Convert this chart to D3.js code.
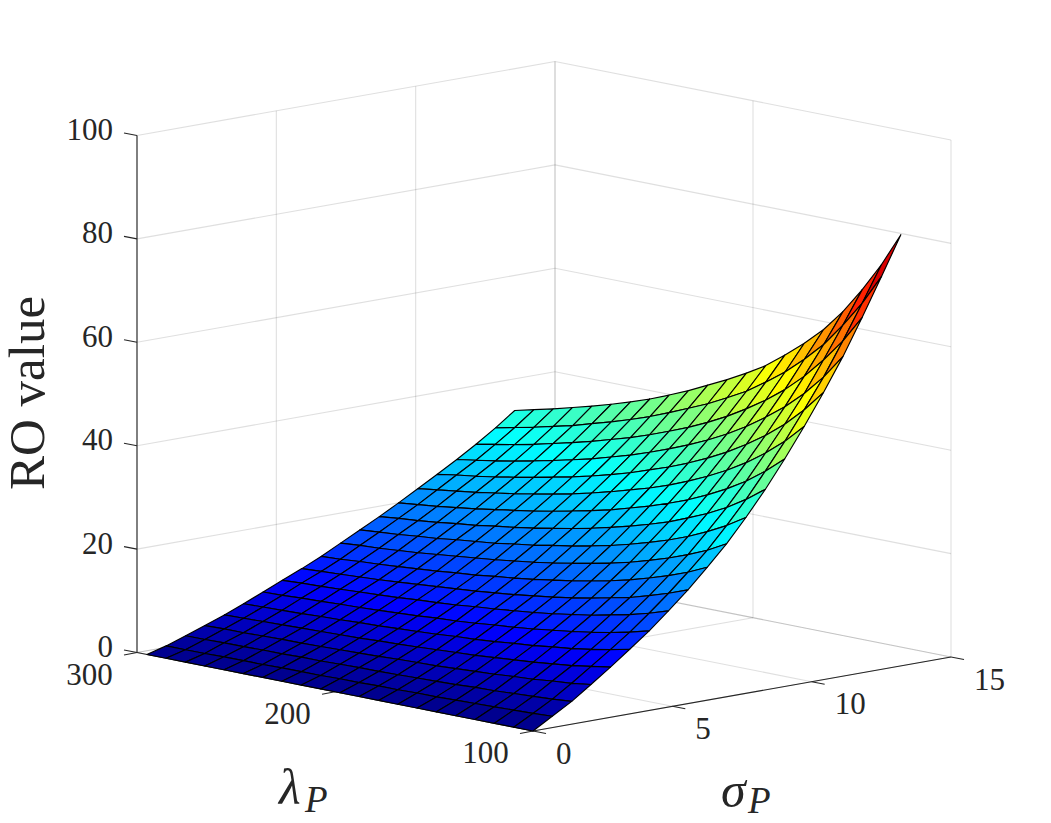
<!DOCTYPE html>
<html><head><meta charset="UTF-8">
<style>
  html, body { margin: 0; padding: 0; background: #fff; }
  text { font-family: "Liberation Serif", serif; fill: #262626; }
</style>
</head>
<body>
<svg width="1051" height="823"></svg>
<script src="https://cdn.jsdelivr.net/npm/d3@7"></script>
<script>

const lambdaValues = [100, 109.75, 119.5, 129.25, 139, 148.75, 158.5, 168.25, 178, 187.75, 197.5, 207.25, 217, 226.75, 236.5, 246.25, 256, 265.75, 275.5, 285.25, 295];
const sigmaValues = [0, 0.69, 1.39, 2.08, 2.78, 3.47, 4.17, 4.86, 5.56, 6.25, 6.95, 7.64, 8.34, 9.03, 9.73, 10.42, 11.12, 11.81, 12.51, 13.2];

// one row per sigma value, one column per lambda value
const roValues = [
  [0, 0, 0, 0, 0, 0, 0, 0, 0, 0, 0, 0, 0, 0, 0, 0, 0, 0, 0, 0, 0],
  [2.2, 2.0, 1.9, 1.8, 1.7, 1.6, 1.5, 1.5, 1.4, 1.4, 1.3, 1.3, 1.2, 1.2, 1.2, 1.1, 1.1, 1.1, 1.0, 1.0, 1.0],
  [4.4, 4.1, 3.9, 3.7, 3.5, 3.4, 3.2, 3.1, 3.0, 2.9, 2.8, 2.8, 2.7, 2.6, 2.6, 2.5, 2.5, 2.4, 2.4, 2.3, 2.3],
  [7.0, 6.5, 6.2, 5.8, 5.6, 5.3, 5.1, 4.9, 4.7, 4.6, 4.5, 4.3, 4.2, 4.1, 4.0, 3.9, 3.9, 3.8, 3.7, 3.7, 3.6],
  [9.7, 9.1, 8.5, 8.1, 7.7, 7.4, 7.1, 6.8, 6.6, 6.4, 6.2, 6.0, 5.9, 5.7, 5.6, 5.5, 5.4, 5.3, 5.2, 5.1, 5.0],
  [12.5, 11.7, 11.0, 10.4, 10.0, 9.5, 9.2, 8.8, 8.5, 8.3, 8.0, 7.8, 7.6, 7.4, 7.3, 7.1, 7.0, 6.8, 6.7, 6.6, 6.5],
  [15.4, 14.4, 13.6, 12.9, 12.3, 11.8, 11.3, 10.9, 10.6, 10.2, 9.9, 9.7, 9.4, 9.2, 9.0, 8.8, 8.7, 8.5, 8.4, 8.2, 8.1],
  [18.6, 17.4, 16.4, 15.6, 14.8, 14.2, 13.6, 13.1, 12.7, 12.3, 12.0, 11.6, 11.3, 11.1, 10.8, 10.6, 10.4, 10.2, 10.0, 9.9, 9.7],
  [22.0, 20.6, 19.4, 18.3, 17.5, 16.7, 16.0, 15.4, 14.9, 14.4, 14.0, 13.6, 13.3, 13.0, 12.7, 12.4, 12.1, 11.9, 11.7, 11.5, 11.3],
  [25.7, 24.0, 22.6, 21.4, 20.3, 19.4, 18.6, 17.9, 17.3, 16.7, 16.2, 15.8, 15.3, 15.0, 14.6, 14.3, 14.0, 13.7, 13.5, 13.2, 13.0],
  [29.6, 27.6, 26.0, 24.6, 23.4, 22.3, 21.4, 20.6, 19.9, 19.2, 18.6, 18.1, 17.6, 17.2, 16.8, 16.4, 16.0, 15.7, 15.4, 15.2, 14.9],
  [34.0, 31.7, 29.8, 28.1, 26.7, 25.5, 24.4, 23.4, 22.6, 21.8, 21.2, 20.5, 20.0, 19.4, 19.0, 18.6, 18.1, 17.8, 17.4, 17.1, 16.8],
  [38.8, 36.1, 33.8, 31.9, 30.3, 28.8, 27.6, 26.5, 25.5, 24.6, 23.8, 23.1, 22.4, 21.8, 21.3, 20.7, 20.3, 19.8, 19.4, 19.1, 18.7],
  [44.0, 40.9, 38.2, 36.0, 34.1, 32.4, 31.0, 29.7, 28.6, 27.5, 26.6, 25.8, 25.0, 24.3, 23.7, 23.1, 22.5, 22.0, 21.5, 21.1, 20.7],
  [49.6, 46.0, 43.0, 40.4, 38.2, 36.3, 34.6, 33.1, 31.8, 30.7, 29.6, 28.6, 27.7, 26.9, 26.2, 25.5, 24.9, 24.3, 23.8, 23.3, 22.8],
  [55.5, 51.4, 47.9, 45.0, 42.5, 40.3, 38.4, 36.7, 35.2, 33.9, 32.6, 31.5, 30.5, 29.6, 28.8, 28.0, 27.3, 26.6, 26.0, 25.5, 24.9],
  [61.8, 57.1, 53.2, 49.9, 47.1, 44.6, 42.4, 40.5, 38.8, 37.3, 35.9, 34.6, 33.5, 32.4, 31.5, 30.6, 29.8, 29.0, 28.3, 27.7, 27.1],
  [68.7, 63.4, 59.0, 55.1, 51.8, 49.0, 46.6, 44.4, 42.5, 40.8, 39.3, 37.9, 36.6, 35.5, 34.4, 33.4, 32.5, 31.6, 30.8, 30.1, 29.4],
  [76.0, 70.1, 65.1, 60.6, 57.0, 53.8, 51.1, 48.6, 46.6, 44.7, 43.1, 41.5, 40.0, 38.7, 37.5, 36.4, 35.3, 34.4, 33.5, 32.7, 31.9],
  [83.4, 76.9, 71.3, 66.3, 62.1, 58.7, 55.7, 52.9, 50.7, 48.7, 46.9, 45.1, 43.5, 42.0, 40.7, 39.5, 38.4, 37.4, 36.4, 35.5, 34.6]
];

const lambdaTicks = [100, 200, 300];
const sigmaTicks = [0, 5, 10, 15];
const roTicks = [0, 20, 40, 60, 80, 100];

let svg = d3.select("svg");

// oblique projection, everything is measured from the lambda=100, sigma=0, RO=0 corner
const originX = 533, originY = 731;
const lambdaDx = d3.scaleLinear().domain([100, 300]).range([0, -396]);
const lambdaDy = d3.scaleLinear().domain([100, 300]).range([0, -78.5]);
const sigmaDx = d3.scaleLinear().domain([0, 15]).range([0, 418]);
const sigmaDy = d3.scaleLinear().domain([0, 15]).range([0, -74]);
const roDy = d3.scaleLinear().domain([0, 100]).range([0, -517]);

function project(lambda, sigma, ro) {
  return [
    originX + lambdaDx(lambda) + sigmaDx(sigma),
    originY + lambdaDy(lambda) + sigmaDy(sigma) + roDy(ro)
  ];
}

// jet colormap
const roMax = d3.max(roValues, r => d3.max(r));
const jet = d3.scaleLinear()
  .domain([0, 0.111, 0.365, 0.619, 0.873, 1].map(t => t * roMax))
  .range(["#00008f", "#0000ff", "#00ffff", "#ffff00", "#ff0000", "#800000"]);

function segment(g, a, b) {
  g.append("line")
    .attr("x1", a[0]).attr("y1", a[1])
    .attr("x2", b[0]).attr("y2", b[1]);
}

// grid on the two walls and the floor
let grid = svg.append("g")
  .attr("stroke", "#262626")
  .attr("stroke-opacity", 0.15)
  .attr("stroke-width", 1.1);

roTicks.forEach(r => {
  segment(grid, project(100, 15, r), project(300, 15, r));
  segment(grid, project(300, 15, r), project(300, 0, r));
});
sigmaTicks.forEach(s => {
  segment(grid, project(300, s, 0), project(300, s, 100));
  segment(grid, project(100, s, 0), project(300, s, 0));
});
lambdaTicks.forEach(l => {
  segment(grid, project(l, 15, 0), project(l, 15, 100));
  segment(grid, project(l, 0, 0), project(l, 15, 0));
});

// axis lines and ticks
let axes = svg.append("g")
  .attr("stroke", "#262626")
  .attr("stroke-width", 1.1);

segment(axes, project(300, 0, 0), project(300, 0, 100));
segment(axes, project(100, 0, 0), project(300, 0, 0));
segment(axes, project(100, 0, 0), project(100, 15, 0));

roTicks.forEach(r => {
  let p = project(300, 0, r);
  segment(axes, p, [p[0] - 13, p[1] - 2.5]);
});
lambdaTicks.forEach(l => {
  let p = project(l, 0, 0);
  segment(axes, p, [p[0] - 13, p[1] + 2.5]);
});
sigmaTicks.forEach(s => {
  let p = project(100, s, 0);
  segment(axes, p, [p[0] + 13, p[1] + 2.5]);
});

// surface cells, far corner first so the near ones paint over
let cells = [];
for (let i = sigmaValues.length - 2; i >= 0; i--) {
  for (let j = lambdaValues.length - 2; j >= 0; j--) {
    cells.push({
      color: roValues[i][j],
      corners: [
        project(lambdaValues[j], sigmaValues[i], roValues[i][j]),
        project(lambdaValues[j + 1], sigmaValues[i], roValues[i][j + 1]),
        project(lambdaValues[j + 1], sigmaValues[i + 1], roValues[i + 1][j + 1]),
        project(lambdaValues[j], sigmaValues[i + 1], roValues[i + 1][j])
      ]
    });
  }
}

const cellPath = d3.line();

svg.append("g")
  .selectAll("path")
  .data(cells)
  .enter()
  .append("path")
  .attr("d", d => cellPath(d.corners) + "Z")
  .attr("fill", d => jet(d.color))
  .attr("stroke", "#000")
  .attr("stroke-width", 1.15)
  .attr("stroke-linejoin", "round");

// tick labels
const tickFont = 31;

svg.append("g").selectAll("text")
  .data(roTicks)
  .enter()
  .append("text")
  .attr("x", d => project(300, 0, d)[0] - 24)
  .attr("y", d => project(300, 0, d)[1] - 6)
  .attr("dy", "0.34em")
  .attr("text-anchor", "end")
  .style("font-size", tickFont + "px")
  .text(d => d);

svg.append("g").selectAll("text")
  .data(lambdaTicks)
  .enter()
  .append("text")
  .attr("x", d => project(d, 0, 0)[0] - 47.5)
  .attr("y", d => project(d, 0, 0)[1] + 21.5)
  .attr("dy", "0.34em")
  .attr("text-anchor", "middle")
  .style("font-size", tickFont + "px")
  .text(d => d);

svg.append("g").selectAll("text")
  .data(sigmaTicks)
  .enter()
  .append("text")
  .attr("x", d => project(100, d, 0)[0] + 23)
  .attr("y", d => project(100, d, 0)[1] + 22)
  .attr("dy", "0.34em")
  .style("font-size", tickFont + "px")
  .text(d => d);

// axis titles
svg.append("text")
  .attr("transform", "translate(44,393) rotate(-90)")
  .attr("text-anchor", "middle")
  .style("font-size", "51px")
  .text("RO value");

function subTitle(x, y, symbol, subX, subY) {
  let t = svg.append("text")
    .attr("x", x)
    .attr("y", y)
    .style("font-style", "italic")
    .style("font-size", "50px");
  t.append("tspan").text(symbol);
  t.append("tspan")
    .attr("x", subX)
    .attr("y", subY)
    .style("font-size", "37px")
    .text("P");
}

subTitle(279, 804, "λ", 305, 812);
subTitle(721, 807, "σ", 748, 813);

</script>
</body></html>
